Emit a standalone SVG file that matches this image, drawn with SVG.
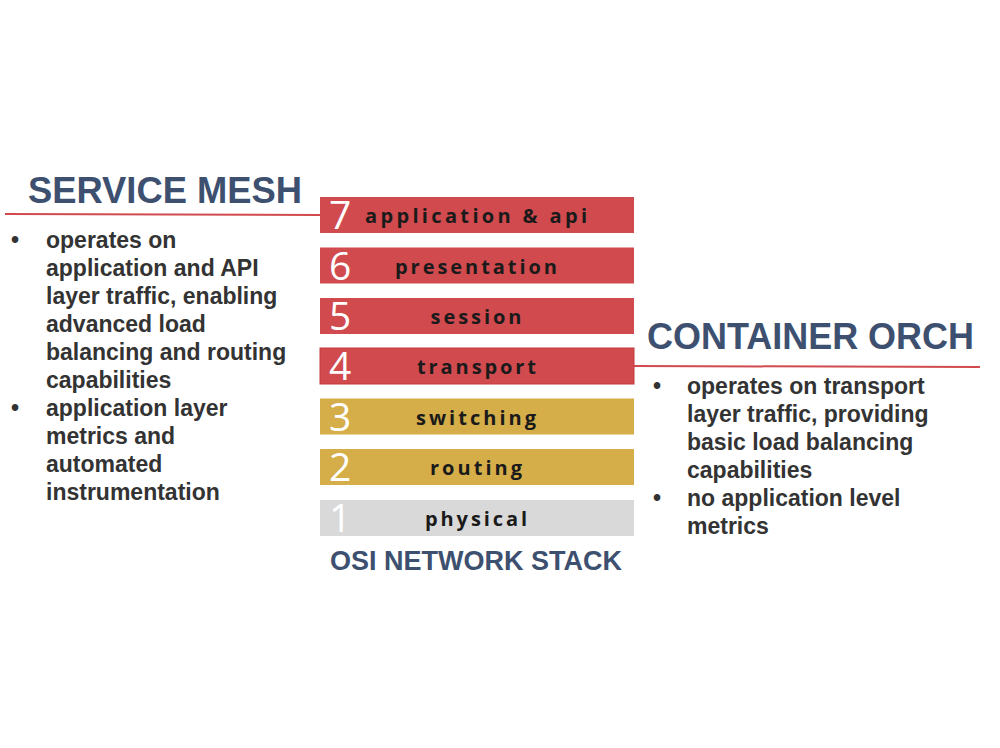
<svg xmlns="http://www.w3.org/2000/svg" width="1000" height="748" viewBox="0 0 1000 748">
<style>
.red{fill:#d04a4e}
.gold{fill:#d5ad49}
.gray{fill:#d9d9d9}
.num{font-family:"Open Sans","Liberation Sans",sans-serif;font-weight:500;font-size:39px;fill:#ffffff}
.lbl{font-family:"Open Sans","Liberation Sans",sans-serif;font-weight:700;font-size:20px;fill:#1a1a1a;text-anchor:middle}
.title{font-family:"Liberation Sans",Arial,sans-serif;font-weight:bold;fill:#3d5070}
.body{font-family:"Liberation Sans",Arial,sans-serif;font-weight:bold;font-size:23px;fill:#333333}
.conn{stroke:#d04a4e;stroke-width:2;fill:none}
</style>
<rect width="1000" height="748" fill="#ffffff"/>
<g id="connectors">
<line class="conn" x1="5" y1="214" x2="320" y2="215"/>
<line class="conn" x1="634" y1="366" x2="980" y2="367"/>
</g>
<g id="layer7">
<rect class="red" x="320" y="197" width="314" height="36"/>
<text class="num" x="329" y="229">7</text>
<text class="lbl" x="476" y="223" textLength="222" lengthAdjust="spacing">application &amp; api</text>
</g>
<g id="layer6">
<rect class="red" x="320" y="247.5" width="314" height="36"/>
<text class="num" x="329" y="279.5">6</text>
<text class="lbl" x="476" y="273.5" textLength="162" lengthAdjust="spacing">presentation</text>
</g>
<g id="layer5">
<rect class="red" x="320" y="298" width="314" height="36"/>
<text class="num" x="329" y="330">5</text>
<text class="lbl" x="476" y="324" textLength="91" lengthAdjust="spacing">session</text>
</g>
<g id="layer4">
<rect class="red" x="320" y="348" width="314" height="36" stroke="#c23a3e" stroke-width="1"/>
<text class="num" x="329" y="380">4</text>
<text class="lbl" x="476.5" y="374" textLength="119" lengthAdjust="spacing">transport</text>
</g>
<g id="layer3">
<rect class="gold" x="320" y="398.5" width="314" height="36"/>
<text class="num" x="329" y="430.5">3</text>
<text class="lbl" x="476" y="424.5" textLength="120" lengthAdjust="spacing">switching</text>
</g>
<g id="layer2">
<rect class="gold" x="320" y="449" width="314" height="36"/>
<text class="num" x="329" y="481">2</text>
<text class="lbl" x="476" y="475" textLength="92" lengthAdjust="spacing">routing</text>
</g>
<g id="layer1">
<rect class="gray" x="320" y="500" width="314" height="36"/>
<text class="num" x="329" y="532">1</text>
<text class="lbl" x="476" y="526" textLength="102" lengthAdjust="spacing">physical</text>
</g>
<g id="osi-title">
<text class="title" x="476" y="570" font-size="27" text-anchor="middle" textLength="292" lengthAdjust="spacingAndGlyphs">OSI NETWORK STACK</text>
</g>
<g id="service-mesh">
<text class="title" x="28" y="203" font-size="37" textLength="274" lengthAdjust="spacingAndGlyphs">SERVICE MESH</text>
<text class="body" x="11" y="248">•</text>
<text class="body" x="46" y="248">operates on</text>
<text class="body" x="46" y="276">application and API</text>
<text class="body" x="46" y="304">layer traffic, enabling</text>
<text class="body" x="46" y="332">advanced load</text>
<text class="body" x="46" y="360">balancing and routing</text>
<text class="body" x="46" y="388">capabilities</text>
<text class="body" x="11" y="416">•</text>
<text class="body" x="46" y="416">application layer</text>
<text class="body" x="46" y="444">metrics and</text>
<text class="body" x="46" y="472">automated</text>
<text class="body" x="46" y="500">instrumentation</text>
</g>
<g id="container-orch">
<text class="title" x="647" y="349" font-size="36" textLength="327" lengthAdjust="spacingAndGlyphs">CONTAINER ORCH</text>
<text class="body" x="653" y="394">•</text>
<text class="body" x="687" y="394">operates on transport</text>
<text class="body" x="687" y="422">layer traffic, providing</text>
<text class="body" x="687" y="450">basic load balancing</text>
<text class="body" x="687" y="478">capabilities</text>
<text class="body" x="653" y="506">•</text>
<text class="body" x="687" y="506">no application level</text>
<text class="body" x="687" y="534">metrics</text>
</g>
</svg>
